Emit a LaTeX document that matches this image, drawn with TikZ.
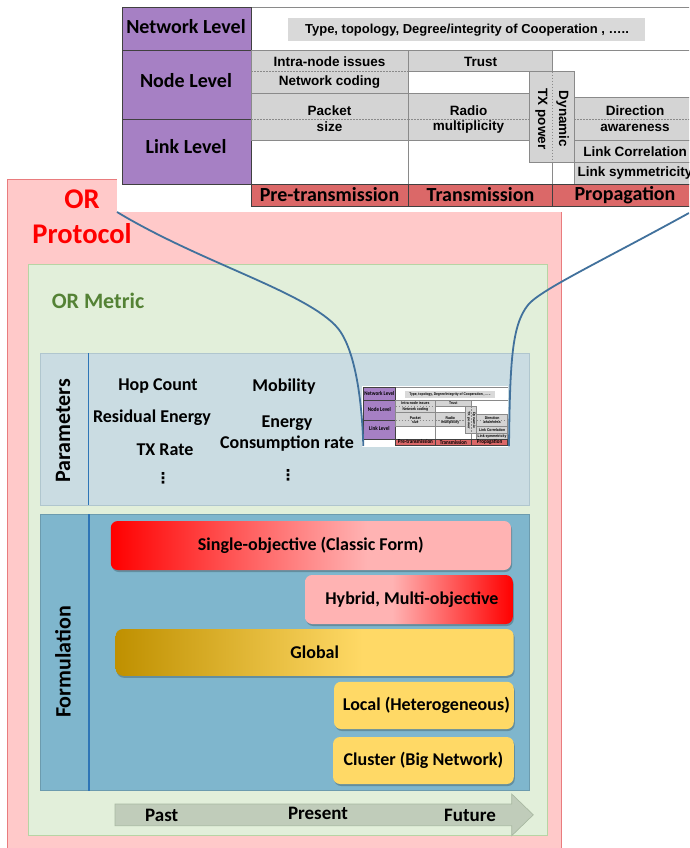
\documentclass[tikz,border=0pt]{standalone}
\usepackage{fontspec}
\setmainfont{Carlito}
\newfontfamily\arialf{Liberation Sans}
\newfontfamily\dejavu{DejaVu Sans}
\definecolor{purp}{HTML}{A680C4}
\definecolor{redcell}{HTML}{DB6868}
\definecolor{cellgray}{HTML}{D4D4D4}
\definecolor{typegray}{HTML}{D9D9D9}
\definecolor{linegray}{HTML}{8A8A8A}
\definecolor{darkline}{HTML}{404040}
\definecolor{pinkbg}{HTML}{FFC9C9}
\definecolor{pinkline}{HTML}{E97C7E}
\definecolor{greenbg}{HTML}{E2EFDA}
\definecolor{greenline}{HTML}{B7D4A4}
\definecolor{metricgreen}{HTML}{548235}
\definecolor{parambg}{HTML}{CADCE2}
\definecolor{paramline}{HTML}{B0C6CE}
\definecolor{formbg}{HTML}{7FB6CD}
\definecolor{vblue}{HTML}{2E75B6}
\definecolor{curvec}{HTML}{41719C}
\definecolor{gold}{HTML}{FFD966}
\definecolor{darkgold}{HTML}{BF9000}
\definecolor{lightred}{HTML}{FFB3B3}
\definecolor{purered}{rgb}{1,0,0}
\definecolor{arrowfill}{HTML}{C0CCBA}
\definecolor{arrowline}{HTML}{A9B9A2}
\pgfdeclarehorizontalshading{singleshade}{100bp}{color(0bp)=(purered); color(25bp)=(purered); color(57bp)=(lightred); color(100bp)=(lightred)}
\pgfdeclarehorizontalshading{hybridshade}{100bp}{color(0bp)=(lightred); color(25bp)=(lightred); color(46bp)=(lightred); color(75bp)=(purered); color(100bp)=(purered)}
\pgfdeclarehorizontalshading{globalshade}{100bp}{color(0bp)=(darkgold); color(25bp)=(darkgold); color(56bp)=(gold); color(100bp)=(gold)}
\tikzset{
  lvl/.style={font=\bfseries\fontsize{20}{24}\selectfont, inner sep=0pt, anchor=base},
  tc/.style={font=\arialf\bfseries\fontsize{13.5}{16}\selectfont, inner sep=0pt},
  cellbox/.style={fill=cellgray, draw=linegray, line width=0.7pt},
  dashsep/.style={draw=linegray, dash pattern=on 1.5pt off 1.5pt, line width=0.6pt},
  tline/.style={draw=linegray, line width=0.8pt},
  dline/.style={draw=darkline, line width=0.8pt},
  ptxt/.style={font=\bfseries\fontsize{18}{21}\selectfont, inner sep=0pt, anchor=base},
  sidelab/.style={font=\bfseries\fontsize{22}{26}\selectfont, inner sep=0pt, rotate=90},
  bar/.style={rectangle, rounded corners=7pt, inner sep=2pt, font=\bfseries\fontsize{18}{21}\selectfont},
  atxt/.style={font=\bfseries\fontsize{19}{22}\selectfont, inner sep=0pt, anchor=base},
  dots/.style={font=\dejavu\bfseries\fontsize{15}{18}\selectfont, inner sep=0pt},
  conn/.style={draw=curvec, line width=1.8pt},
}
\newcommand\ortable[1]{%
  \fill[white] (117,0) rectangle (698,212);
  \draw[tline] (122,7) -- (698,7);
  \draw[tline] (251,50.7) -- (698,50.7);
  \draw[tline] (408,50.7) -- (408,206.7) (552.7,50.7) -- (552.7,206.7);
  \filldraw[fill=purp, dline] (122,7) rectangle (251,184.3);
  \draw[dline] (122,50.7) -- (251,50.7) (122,119.3) -- (251,119.3);
  \fill[typegray] (288,18) rectangle (645,41);
  \filldraw[cellbox] (251,50.7) rectangle (408,93.3);
  \draw[dashsep] (251,71.7) -- (408,71.7);
  \filldraw[cellbox] (251,93.3) rectangle (408,140);
  \draw[dashsep] (251,119.3) -- (408,119.3);
  \filldraw[cellbox] (408,50.7) rectangle (552.7,71.7);
  \filldraw[cellbox] (408,93.3) rectangle (529.3,140);
  \draw[dashsep] (408,119.3) -- (529.3,119.3);
  \filldraw[cellbox] (529.3,71.7) rectangle (574,162.7);
  \draw[dashsep] (552.7,71.7) -- (552.7,162.7);
  \filldraw[cellbox] (574,97.5) rectangle (697,140);
  \draw[dashsep] (574,119.7) -- (697,119.7);
  \filldraw[cellbox] (574,140) rectangle (697,162.7);
  \filldraw[cellbox] (574,162.7) rectangle (697,184.3);
  \filldraw[fill=redcell, dline] (251,184.3) rectangle (697,206.7);
  \draw[dline] (408,184.3) -- (408,206.7) (552.7,184.3) -- (552.7,206.7);
  \node[lvl] (#1net) at (186,34) {Network Level};
  \node[lvl] (#1node) at (186,87.5) {Node Level};
  \node[lvl] (#1link) at (186,153.5) {Link Level};
  \node[tc, font=\arialf\bfseries\fontsize{13}{15}\selectfont] (#1type) at (467,30) {Type, topology, Degree/integrity of Cooperation , …..};
  \node[tc] (#1intra) at (329.5,61.5) {Intra-node issues};
  \node[tc] (#1coding) at (329.5,82.5) {Network coding};
  \node[tc] (#1packet) at (329.5,110.5) {Packet};
  \node[tc] (#1size) at (329.5,127) {size};
  \node[tc] (#1trust) at (480.5,61.5) {Trust};
  \node[tc] (#1radio) at (468.5,110.5) {Radio};
  \node[tc] (#1multi) at (468.5,127) {multiplicity};
  \node[tc, rotate=-90, align=center, font=\arialf\bfseries\fontsize{13.5}{21}\selectfont] (#1txp) at (552,119) {Dynamic\\TX power};
  \node[tc] (#1dir) at (635,110.5) {Direction};
  \node[tc] (#1aware) at (635,128) {awareness};
  \node[tc] (#1corr) at (635,151.5) {Link Correlation};
  \node[tc] (#1sym) at (635,173.5) {Link symmetricity};
  \node[lvl] (#1pre) at (329.5,201) {Pre-transmission};
  \node[lvl] (#1trans) at (480.5,201.5) {Transmission};
  \node[lvl] (#1prop) at (625,200.5) {Propagation};
}
\begin{document}
\begin{tikzpicture}[x=1pt, y=-1pt]
\clip (0,0) rectangle (689,848);
\fill[white] (0,0) rectangle (689,848);
% outer OR protocol box
\filldraw[fill=pinkbg, draw=pinkline, line width=0.9pt] (7.5,179) rectangle (561,870);
% big table
\ortable{m}
% OR Protocol label
\node[font=\bfseries\fontsize{28.5}{34}\selectfont, text=purered, inner sep=0pt, anchor=base] (orl1) at (82,208) {OR};
\node[font=\bfseries\fontsize{28.5}{34}\selectfont, text=purered, inner sep=0pt, anchor=base] (orl2) at (82,243) {Protocol};
% OR metric box
\filldraw[fill=greenbg, draw=greenline, line width=0.9pt] (28.3,264) rectangle (547.7,835);
\node[font=\bfseries\fontsize{22}{26}\selectfont, text=metricgreen, inner sep=0pt, anchor=base] (metric) at (98,308.3) {OR Metric};
% Parameters panel
\filldraw[fill=parambg, draw=paramline, line width=0.8pt] (40,353.3) rectangle (529.3,505);
\draw[vblue, line width=1.2pt] (88.3,353.3) -- (88.3,505);
\node[sidelab] (paramlab) at (63,431) {Parameters};
\node[ptxt] (hop) at (158,390) {Hop Count};
\node[ptxt] (resid) at (152,422) {Residual Energy};
\node[ptxt] (txr) at (165,455.5) {TX Rate};
\node[dots] (d1) at (163,478) {⋮};
\node[ptxt] (mob) at (284,391) {Mobility};
\node[ptxt] (ener) at (287,427) {Energy};
\node[ptxt] (cons) at (287,448.5) {Consumption rate};
\node[dots] (d2) at (288,475) {⋮};
% thumbnail of the table
\begin{scope}[shift={(332.7,385.7)}, xscale=0.251, yscale=0.29, transform shape]
\ortable{t}
\end{scope}
% Formulation panel
\filldraw[fill=formbg, draw=formbg!85!black, line width=0.6pt] (40.7,514) rectangle (529,790.7);
\draw[vblue, line width=1.2pt] (89,514) -- (89,790.7);
\node[sidelab] (formlab) at (63,662) {Formulation};
\foreach \cx/\cy/\w/\h in {310.9/545.5/400.3/49, 408.9/599.5/207.7/49, 314.7/652.4/398/46.7, 423.9/705.4/179.7/47.3, 423.4/760.5/180.7/47}
  \fill[black, opacity=0.22, rounded corners=7pt] (\cx-\w/2+1,\cy-\h/2+2) rectangle (\cx+\w/2+1,\cy+\h/2+2);
\node[bar, shade, shading=singleshade, minimum width=400.3pt, minimum height=49pt] (single) at (310.9,545.5) {Single-objective (Classic Form)};
\node[bar, shade, shading=hybridshade, minimum width=207.7pt, minimum height=49pt] (hybrid) at (408.9,599.5) {\hspace*{6pt}Hybrid, Multi-objective};
\node[bar, shade, shading=globalshade, minimum width=398pt, minimum height=46.7pt] (global) at (314.7,652.4) {Global};
\node[bar, fill=gold, minimum width=179.7pt, minimum height=47.3pt, inner sep=0pt] (local) at (423.9,705.4) {\hspace*{5pt}Local (Heterogeneous)};
\node[bar, fill=gold, minimum width=180.7pt, minimum height=47pt] (cluster) at (423.4,760.5) {Cluster (Big Network)};
% time arrow
\filldraw[fill=arrowfill, draw=arrowline, line width=0.7pt] (115,804) -- (511.7,804) -- (511.7,794) -- (533.3,814.8) -- (511.7,835.7) -- (511.7,825.7) -- (115,825.7) -- cycle;
\node[atxt] (past) at (161.7,821.7) {Past};
\node[atxt] (present) at (318,819) {Present};
\node[atxt] (future) at (470,821) {Future};
% zoom connectors
\coordinate (bgBL) at (117,212);
\coordinate (bgBR) at (689,213);
\coordinate (thBL) at (363.3,446);
\coordinate (thBR) at (509,446);
\draw[conn] (bgBL) .. controls (200,262) and (300,290) .. (335,325) .. controls (355,345) and (362,400) .. (thBL);
\draw[conn] (bgBR) .. controls (600,262) and (540,290) .. (528,305) .. controls (512,325) and (510,360) .. (thBR);
\end{tikzpicture}
\end{document}
